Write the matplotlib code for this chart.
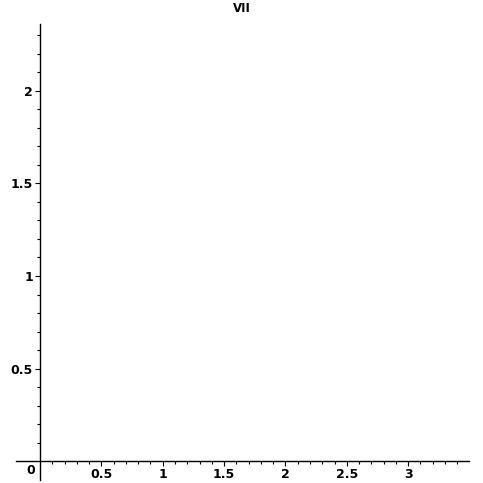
import matplotlib
matplotlib.use("Agg")
import matplotlib.pyplot as plt
import numpy as np

title = "VII"
x_range = [-0.2, 3.5]
y_range = [-0.1, 2.36]
x_major = [0.5, 1, 1.5, 2, 2.5, 3]
x_labels = ["0.5", "1", "1.5", "2", "2.5", "3"]
y_major = [0.5, 1, 1.5, 2]
y_labels = ["0.5", "1", "1.5", "2"]
minor_step = 0.1

W = H = 483
fig = plt.figure(figsize=(W / 100, H / 100), dpi=100)
left_px, right_px = 15.5, 469.5
top_px, bot_px = 24.4, 479.5
ax = fig.add_axes([left_px / W, (H - bot_px) / H, (right_px - left_px) / W, (bot_px - top_px) / H])
ax.set_xlim(*x_range)
ax.set_ylim(*y_range)
for s in ["top", "right"]:
    ax.spines[s].set_visible(False)
ax.spines["left"].set_position(("data", 0))
ax.spines["bottom"].set_position(("data", 0))
for s in ["left", "bottom"]:
    ax.spines[s].set_linewidth(1.0)
    ax.spines[s].set_color("black")

ax.set_xticks(x_major)
ax.set_xticklabels(x_labels)
ax.set_yticks(y_major)
ax.set_yticklabels(y_labels)
ax.set_xticks(np.arange(0.1, x_range[1], minor_step), minor=True)
ax.set_yticks(np.arange(0.1, y_range[1], minor_step), minor=True)
ax.tick_params(which="major", direction="out", length=3.5, width=0.8, labelsize=9, pad=1.5)
ax.tick_params(which="minor", direction="out", length=2, width=0.8)
for lab in ax.get_xticklabels() + ax.get_yticklabels():
    lab.set_fontweight("bold")

ax.text(-0.04, -0.015, "0", ha="right", va="top", fontsize=9, fontweight="bold")
fig.text(242 / W, 1 - 8 / H, title, ha="center", va="center", fontsize=8.5, fontweight="bold")

fig.savefig("out.png", dpi=100)
